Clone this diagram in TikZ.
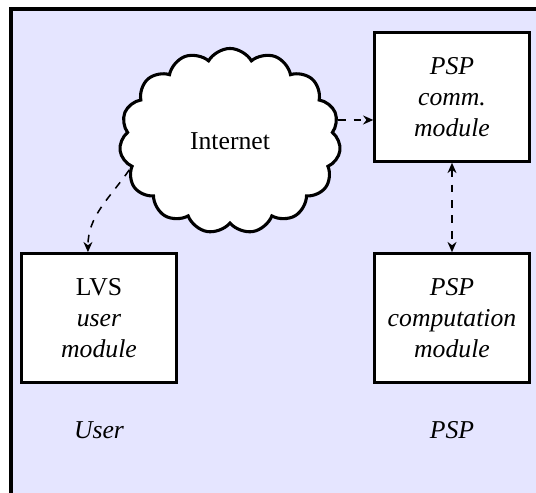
\documentclass[tikz,border=0pt]{standalone}
\usepackage{fontspec}
\setmainfont{Liberation Serif}
\usetikzlibrary{shapes.symbols,arrows.meta}
\begin{document}
\begin{tikzpicture}[x=0.389pt,y=-0.389pt]
  \tikzstyle{module}=[draw,line width=1.2pt,fill=white,align=center,minimum width=60pt,minimum height=50pt]
  \tikzstyle{link}=[dashed,semithick,-{Stealth[length=4pt,width=3.5pt]}]
  \tikzstyle{both}=[dashed,semithick,{Stealth[length=4pt,width=3.5pt]}-{Stealth[length=4pt,width=3.5pt]}]
  \tikzstyle{side}=[font=\itshape]
  \useasboundingbox (0,0) rectangle (536,492);
  \clip (0,0) rectangle (536,492);
  \draw[line width=1.2pt,fill=blue!10] (11,9) rectangle (560,520);
  \node[cloud,draw,line width=1.2pt,fill=white,cloud puffs=15,cloud puff arc=120,
        minimum width=86pt,minimum height=72pt] (net) at (230,141) {Internet};
  \node[module] (comm) at (452,97) {\emph{PSP}\\\emph{comm.}\\\emph{module}};
  \node[module] (comp) at (452,318) {\emph{PSP}\\\emph{computation}\\\emph{module}};
  \node[module] (lvs) at (99,318) {LVS\\\emph{user}\\\emph{module}};
  \node[side] (user) at (99,430) {User};
  \node[side] (psp) at (452,430) {PSP};
  \draw[link] (net.11) -- (comm.west |- net.11);
  \draw[link] (net.196) to[out=235,in=90] ([xshift=-4.3pt]lvs.north);
  \draw[both] (comm) -- (comp);
\end{tikzpicture}
\end{document}
